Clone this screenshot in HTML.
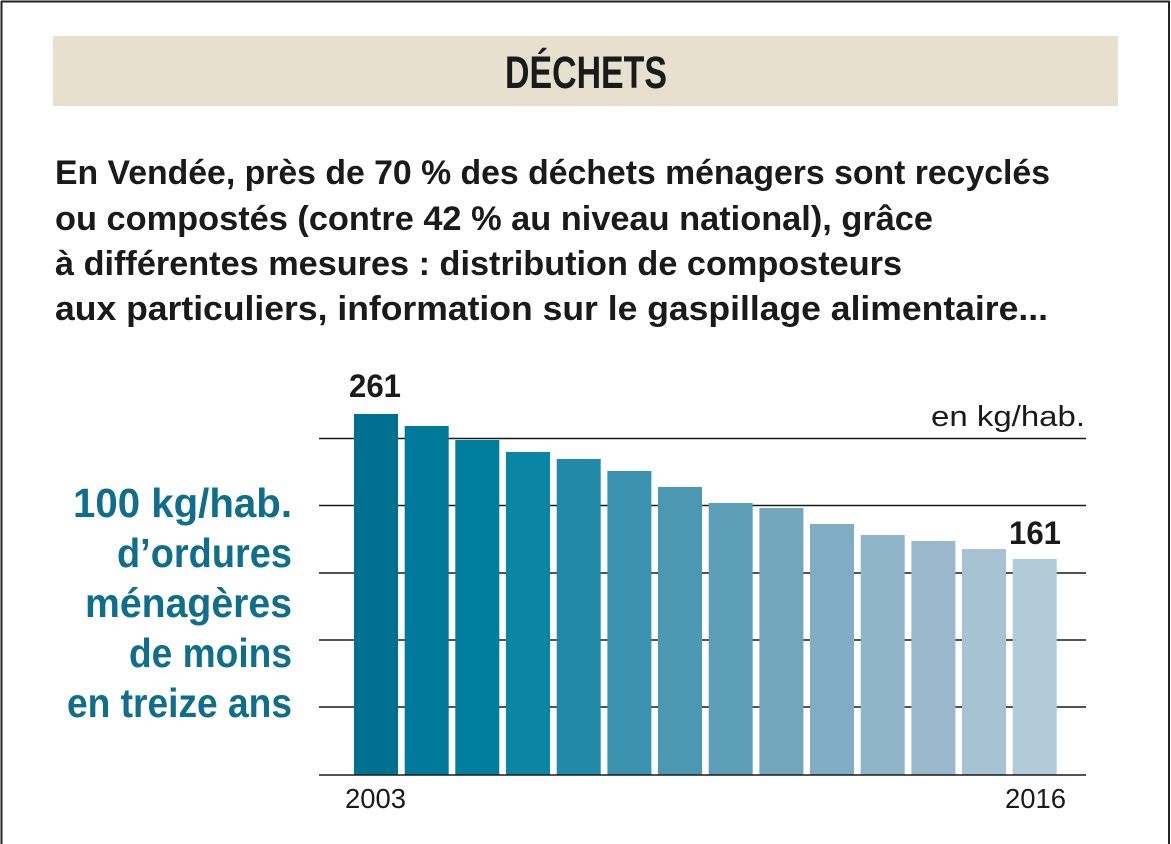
<!DOCTYPE html>
<html>
<head>
<meta charset="utf-8">
<style>
  html, body { margin: 0; padding: 0; background: #ffffff; }
  svg { display: block; }
  text { font-family: "Liberation Sans", "DejaVu Sans", sans-serif; }
</style>
</head>
<body>
<svg width="1171" height="844" viewBox="0 0 1171 844" xmlns="http://www.w3.org/2000/svg">
  <rect x="0" y="0" width="1171" height="844" fill="#ffffff"/>
  <!-- outer border -->
  <line x1="1" y1="1.5" x2="1169.5" y2="1.5" stroke="#222" stroke-width="2"/>
  <line x1="1.5" y1="1" x2="1.5" y2="844" stroke="#222" stroke-width="2"/>
  <line x1="1169" y1="1" x2="1169" y2="844" stroke="#222" stroke-width="2"/>

  <!-- header -->
  <rect x="53" y="36" width="1065" height="70" fill="#E8E0CE"/>
  <text x="505" y="88" font-size="45" font-weight="bold" fill="#1a1a1a" textLength="162" lengthAdjust="spacingAndGlyphs">DÉCHETS</text>

  <!-- paragraph -->
  <g font-size="34.5" font-weight="bold" fill="#1a1a1a">
    <text x="55" y="184" textLength="995" lengthAdjust="spacingAndGlyphs">En Vendée, près de 70 % des déchets ménagers sont recyclés</text>
    <text x="55" y="230" textLength="878" lengthAdjust="spacingAndGlyphs">ou compostés (contre 42 % au niveau national), grâce</text>
    <text x="55" y="275" textLength="847" lengthAdjust="spacingAndGlyphs">à différentes mesures : distribution de composteurs</text>
    <text x="55" y="320" textLength="993" lengthAdjust="spacingAndGlyphs">aux particuliers, information sur le gaspillage alimentaire...</text>
  </g>

  <!-- left teal caption -->
  <g font-size="41" font-weight="bold" fill="#0E6E8C" text-anchor="end">
    <text x="292" y="517" textLength="219" lengthAdjust="spacingAndGlyphs">100 kg/hab.</text>
    <text x="292" y="567" textLength="175" lengthAdjust="spacingAndGlyphs">d’ordures</text>
    <text x="292" y="617" textLength="207" lengthAdjust="spacingAndGlyphs">ménagères</text>
    <text x="292" y="667" textLength="163" lengthAdjust="spacingAndGlyphs">de moins</text>
    <text x="292" y="717" textLength="225" lengthAdjust="spacingAndGlyphs">en treize ans</text>
  </g>

  <!-- gridlines -->
  <g stroke="#1a1a1a" stroke-width="1.4">
    <line x1="319" y1="438.5" x2="1086" y2="438.5"/>
    <line x1="319" y1="505.5" x2="1086" y2="505.5"/>
    <line x1="319" y1="573" x2="1086" y2="573"/>
    <line x1="319" y1="640" x2="1086" y2="640"/>
    <line x1="319" y1="707" x2="1086" y2="707"/>
  </g>

  <!-- bars -->
  <g>
    <rect x="354.0" y="414" width="44" height="361" fill="#007090"/>
    <rect x="404.7" y="426" width="44" height="349" fill="#00799A"/>
    <rect x="455.3" y="440" width="44" height="335" fill="#007E9D"/>
    <rect x="506.0" y="452" width="44" height="323" fill="#0A85A3"/>
    <rect x="556.7" y="459" width="44" height="316" fill="#228AA8"/>
    <rect x="607.4" y="471" width="44" height="304" fill="#3A92AF"/>
    <rect x="658.0" y="487" width="44" height="288" fill="#4C98B3"/>
    <rect x="708.7" y="503" width="44" height="272" fill="#5E9FB8"/>
    <rect x="759.4" y="508" width="44" height="267" fill="#72A6BD"/>
    <rect x="810.0" y="524" width="44" height="251" fill="#80ADC3"/>
    <rect x="860.7" y="535" width="44" height="240" fill="#8EB5C9"/>
    <rect x="911.4" y="541" width="44" height="234" fill="#9AB9CC"/>
    <rect x="962.0" y="549" width="44" height="226" fill="#A7C2D2"/>
    <rect x="1012.7" y="559" width="44" height="216" fill="#B3CBD9"/>
  </g>

  <!-- baseline -->
  <line x1="319" y1="775" x2="1086" y2="775" stroke="#1a1a1a" stroke-width="1.5"/>

  <!-- labels -->
  <text x="931" y="426" font-size="29" fill="#1a1a1a" textLength="154" lengthAdjust="spacingAndGlyphs">en kg/hab.</text>
  <text x="349" y="397" font-size="32" font-weight="bold" fill="#1a1a1a" textLength="52" lengthAdjust="spacingAndGlyphs">261</text>
  <text x="1009" y="544" font-size="32" font-weight="bold" fill="#1a1a1a" textLength="52" lengthAdjust="spacingAndGlyphs">161</text>
  <text x="345" y="808" font-size="28" fill="#1a1a1a" textLength="61" lengthAdjust="spacingAndGlyphs">2003</text>
  <text x="1005" y="808" font-size="28" fill="#1a1a1a" textLength="61" lengthAdjust="spacingAndGlyphs">2016</text>
</svg>
</body>
</html>
